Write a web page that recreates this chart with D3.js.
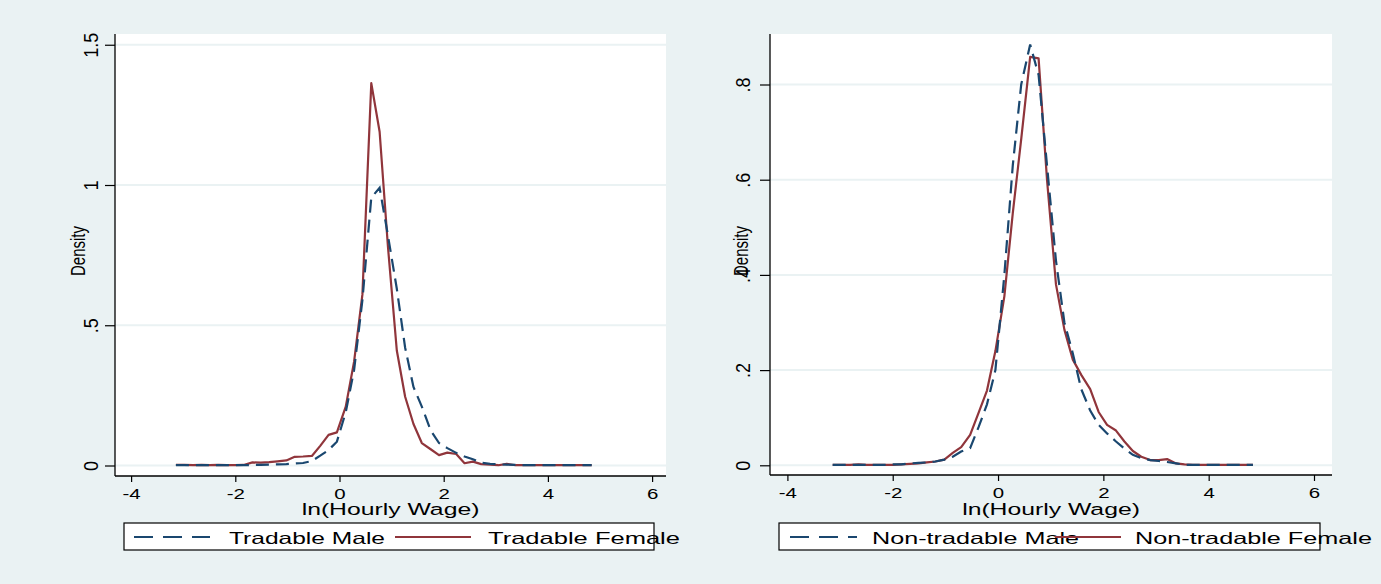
<!DOCTYPE html>
<html>
<head>
<meta charset="utf-8">
<script src="https://cdn.jsdelivr.net/npm/d3@7"></script>
<style>
  body { margin: 0; background: #eaf2f3; }
  svg text { font-family: "Liberation Sans", Arial, sans-serif; fill: #000; }
</style>
</head>
<body>
<svg id="chart" width="1381" height="584"></svg>
<script>
// kdensity evaluation points, ln(hourly wage)
const wageGrid = [-3.14,-2.98,-2.81,-2.65,-2.49,-2.33,-2.16,-2.00,-1.84,-1.67,
                  -1.51,-1.35,-1.19,-1.02,-0.86,-0.70,-0.53,-0.37,-0.21,-0.05,
                   0.12, 0.28, 0.44, 0.61, 0.77, 0.93, 1.10, 1.26, 1.42, 1.58,
                   1.75, 1.91, 2.07, 2.24, 2.40, 2.56, 2.72, 2.89, 3.05, 3.21,
                   3.38, 3.54, 3.70, 3.86, 4.03, 4.19, 4.35, 4.52, 4.68, 4.84];

const tradableMale = [0.001,0.001,0.001,0.001,0.001,0.001,0.001,0.001,0.001,0.002,
                      0.002,0.003,0.004,0.005,0.007,0.009,0.016,0.035,0.055,0.085,
                      0.190,0.340,0.590,0.955,0.990,0.820,0.630,0.420,0.280,0.210,
                      0.125,0.080,0.062,0.045,0.032,0.022,0.010,0.006,0.004,0.003,
                      0.002,0.001,0.001,0.001,0.001,0.001,0.001,0.001,0.001,0.001];

const tradableFemale = [0.002,0.002,0.001,0.002,0.001,0.002,0.001,0.001,0.002,0.011,
                        0.010,0.012,0.015,0.018,0.031,0.032,0.034,0.070,0.109,0.118,
                        0.210,0.370,0.610,1.363,1.190,0.780,0.410,0.245,0.148,0.080,
                        0.058,0.037,0.046,0.041,0.008,0.014,0.005,0.003,0.001,0.006,
                        0.001,0.001,0.001,0.001,0.001,0.001,0.001,0.001,0.001,0.001];

const nonTradableMale = [0.001,0.001,0.001,0.001,0.001,0.001,0.001,0.002,0.002,0.004,
                         0.005,0.006,0.008,0.012,0.018,0.029,0.036,0.080,0.128,0.200,
                         0.400,0.630,0.800,0.884,0.820,0.630,0.430,0.300,0.235,0.160,
                         0.115,0.085,0.067,0.050,0.035,0.022,0.015,0.011,0.009,0.007,
                         0.004,0.001,0.001,0.001,0.001,0.001,0.001,0.001,0.001,0.001];

const nonTradableFemale = [0.001,0.001,0.001,0.002,0.001,0.001,0.001,0.001,0.002,0.003,
                           0.004,0.006,0.008,0.012,0.026,0.038,0.064,0.110,0.157,0.240,
                           0.355,0.530,0.685,0.858,0.855,0.600,0.380,0.285,0.222,0.190,
                           0.160,0.112,0.085,0.073,0.050,0.030,0.018,0.011,0.011,0.013,
                           0.004,0.002,0.001,0.001,0.001,0.001,0.001,0.001,0.001,0.001];

const xTicks = [-4, -2, 0, 2, 4, 6];
const yTicksTradable = [0, 0.5, 1, 1.5];
const yLabelsTradable = ["0", ".5", "1", "1.5"];
const yTicksNon = [0, 0.2, 0.4, 0.6, 0.8];
const yLabelsNon = ["0", ".2", ".4", ".6", ".8"];
const legendTradable = ["Tradable Male", "Tradable Female"];
const legendNon = ["Non-tradable Male", "Non-tradable Female"];

const MALE = "#1a476f", FEMALE = "#90353b", BG = "#eaf2f3";

const svg = d3.select("#chart");
svg.append("rect").attr("width", 1381).attr("height", 584).attr("fill", BG);

const drawPanel = (p) => {
  const g = svg.append("g");
  const x = d3.scaleLinear().domain([-4, 6]).range(p.xRange);
  const y = d3.scaleLinear().domain([0, p.yTicks[p.yTicks.length - 1]]).range(p.yRange);

  // plot region
  g.append("rect")
    .attr("x", p.left).attr("y", p.top)
    .attr("width", p.right - p.left).attr("height", p.bottom - p.top)
    .attr("fill", "#fff");

  g.selectAll("line.grid")
    .data(p.yTicks)
    .enter().append("line")
    .attr("class", "grid")
    .attr("x1", p.left).attr("x2", p.right)
    .attr("y1", d => y(d)).attr("y2", d => y(d))
    .attr("stroke", BG).attr("stroke-width", 2);

  const line = d3.line()
    .x((d, i) => x(wageGrid[i]))
    .y(d => y(d));

  g.append("path")
    .attr("d", line(p.female))
    .attr("fill", "none").attr("stroke", FEMALE).attr("stroke-width", 2.2)
    .attr("stroke-linejoin", "round");

  g.append("path")
    .attr("d", line(p.male))
    .attr("fill", "none").attr("stroke", MALE).attr("stroke-width", 2.2)
    .attr("stroke-dasharray", "13,7");

  // x axis
  const xAxis = g.append("g")
    .attr("transform", "translate(0," + p.bottom + ")")
    .call(d3.axisBottom(x).tickValues(xTicks).tickSize(6).tickSizeOuter(0).tickFormat(d3.format("d")));
  xAxis.select(".domain").remove();
  xAxis.selectAll(".tick line").attr("stroke", "#000").attr("stroke-width", 1.2);
  xAxis.selectAll(".tick text")
    .attr("y", 23).attr("dy", null)
    .attr("font-size", 15.5)
    .attr("transform", "scale(1.32,1)")
    .text(d => d < 0 ? "-" + Math.abs(d) : d);

  // y axis
  const yAxis = g.append("g")
    .attr("transform", "translate(" + p.left + ",0)")
    .call(d3.axisLeft(y).tickValues(p.yTicks).tickSize(10).tickSizeOuter(0)
      .tickFormat((d, i) => p.yLabels[i]));
  yAxis.select(".domain").remove();
  yAxis.selectAll(".tick line").attr("stroke", "#000").attr("stroke-width", 1.2);
  yAxis.selectAll(".tick text")
    .attr("x", 0).attr("dy", null)
    .attr("text-anchor", "middle")
    .attr("font-size", 18)
    .attr("transform", "translate(" + (p.yLabelX - p.left) + ",0) rotate(-90) scale(1,1.1)");

  g.append("line")
    .attr("x1", p.left).attr("x2", p.left).attr("y1", p.top).attr("y2", p.bottom)
    .attr("stroke", "#000").attr("stroke-width", 1.3);
  g.append("line")
    .attr("x1", p.left).attr("x2", p.right).attr("y1", p.bottom).attr("y2", p.bottom)
    .attr("stroke", "#000").attr("stroke-width", 1.3);

  // axis titles
  g.append("text")
    .attr("transform", "translate(" + p.densityX + ",251) rotate(-90) scale(1,1.1)")
    .attr("text-anchor", "middle").attr("font-size", 18)
    .attr("textLength", 50).attr("lengthAdjust", "spacingAndGlyphs")
    .text("Density");

  g.append("text")
    .attr("transform", "translate(" + ((p.left + p.right) / 2) + ",515) scale(1.5,1)")
    .attr("text-anchor", "middle").attr("font-size", 16.5)
    .text("ln(Hourly Wage)");

  // legend
  const lg = g.append("g");
  lg.append("rect")
    .attr("x", p.legendBox[0]).attr("y", 523)
    .attr("width", p.legendBox[1] - p.legendBox[0]).attr("height", 27)
    .attr("fill", "#fff").attr("stroke", "#000").attr("stroke-width", 1.2);
  lg.append("line")
    .attr("x1", p.maleKey[0]).attr("x2", p.maleKey[1]).attr("y1", 537).attr("y2", 537)
    .attr("stroke", MALE).attr("stroke-width", 2.2).attr("stroke-dasharray", "19,10");
  lg.append("text")
    .attr("transform", "translate(" + p.maleText[0] + ",543.5)")
    .attr("font-size", 16.5)
    .attr("textLength", p.maleText[1]).attr("lengthAdjust", "spacingAndGlyphs")
    .text(p.legend[0]);
  lg.append("line")
    .attr("x1", p.femaleKey[0]).attr("x2", p.femaleKey[1]).attr("y1", 537).attr("y2", 537)
    .attr("stroke", FEMALE).attr("stroke-width", 2.2);
  lg.append("text")
    .attr("transform", "translate(" + p.femaleText[0] + ",543.5)")
    .attr("font-size", 16.5)
    .attr("textLength", p.femaleText[1]).attr("lengthAdjust", "spacingAndGlyphs")
    .text(p.legend[1]);
};

drawPanel({
  left: 115, right: 666, top: 34, bottom: 476,
  xRange: [131.1, 652.1], yRange: [465.5, 44.75],
  yTicks: yTicksTradable, yLabels: yLabelsTradable,
  male: tradableMale, female: tradableFemale,
  yLabelX: 97.5, densityX: 85,
  legend: legendTradable, legendBox: [124, 654],
  maleKey: [134, 210], maleText: [229, 156],
  femaleKey: [395, 471], femaleText: [488, 192]
});

drawPanel({
  left: 770, right: 1332, top: 34, bottom: 475,
  xRange: [787.4, 1314], yRange: [465.3, 84.5],
  yTicks: yTicksNon, yLabels: yLabelsNon,
  male: nonTradableMale, female: nonTradableFemale,
  yLabelX: 750, densityX: 748,
  legend: legendNon, legendBox: [779, 1320],
  maleKey: [790, 857], maleText: [872, 207],
  femaleKey: [1055, 1121], femaleText: [1135, 237]
});
</script>
</body>
</html>
